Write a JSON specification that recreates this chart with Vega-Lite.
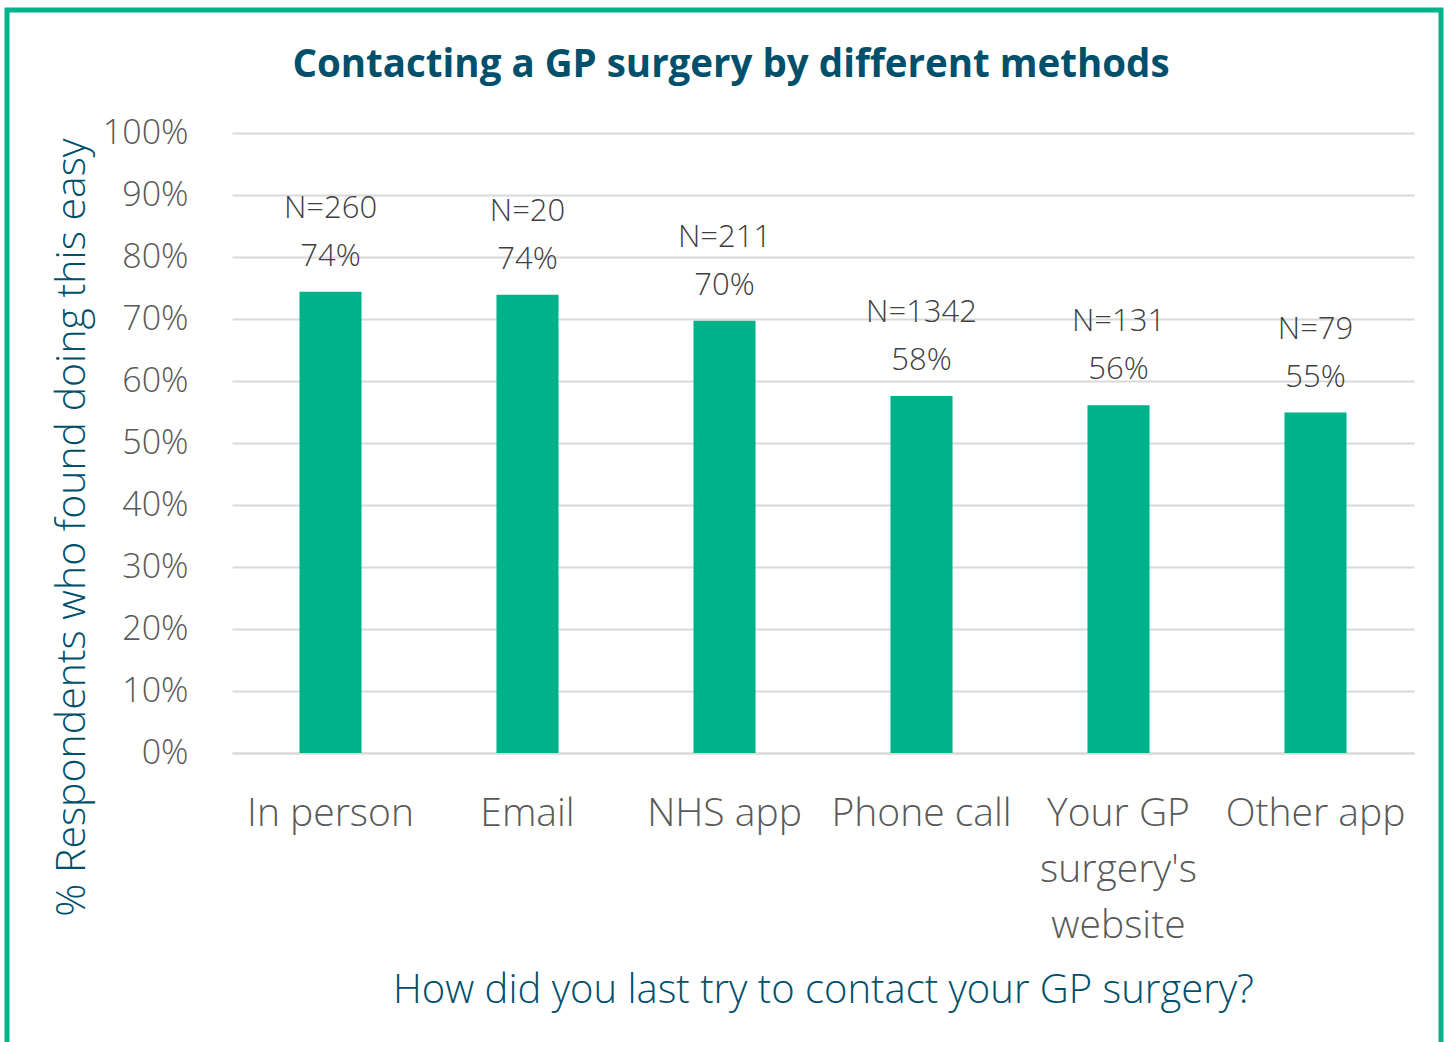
{
  "$schema": "https://vega.github.io/schema/vega-lite/v6.json",
  "width": 1182,
  "height": 620,
  "autosize": "none",
  "padding": {"left": 232, "top": 133, "right": 35, "bottom": 289},
  "background": "white",
  "title": {
    "text": "Contacting a GP surgery by different methods",
    "font": "Open Sans",
    "fontSize": 38.5,
    "fontWeight": "bold",
    "color": "#004F6B",
    "anchor": "middle",
    "dx": -92,
    "baseline": "alphabetic",
    "offset": -108
  },
  "config": {"view": {"stroke": null}},
  "layer": [
    {
      "data": {"values": [{"frame": 1}]},
      "mark": {"type": "rect", "fill": null, "stroke": "#00B28A", "strokeWidth": 5, "x": -225, "x2": 1209, "y": -123, "y2": 930, "clip": false},
      "encoding": {}
    },
    {
      "data": {"name": "bars", "values": [
        {"method": "In person", "pct": 0.744, "n_label": "N=260"},
        {"method": "Email", "pct": 0.739, "n_label": "N=20"},
        {"method": "NHS app", "pct": 0.697, "n_label": "N=211"},
        {"method": "Phone call", "pct": 0.576, "n_label": "N=1342"},
        {"method": "Your GP surgery's website", "pct": 0.561, "n_label": "N=131"},
        {"method": "Other app", "pct": 0.549, "n_label": "N=79"}
      ]},
      "encoding": {
        "x": {
          "field": "method", "type": "nominal", "sort": null,
          "scale": {"paddingInner": 0.685, "paddingOuter": 0.3425},
          "axis": {
            "labelAngle": 0, "labelFont": "Open Sans", "labelFontWeight": 300, "labelFontSize": 39,
            "labelColor": "#595959", "labelPadding": 41, "labelLimit": 0, "labelLineHeight": 56,
            "labelBaseline": "top",
            "labelExpr": "datum.label == 'Your GP surgery\\'s website' ? ['Your GP', 'surgery\\'s', 'website'] : datum.label",
            "domain": true, "domainColor": "#D9D9D9", "domainWidth": 2, "ticks": false,
            "title": "How did you last try to contact your GP surgery?",
            "titleFont": "Open Sans", "titleFontWeight": 300, "titleFontSize": 40, "titleColor": "#004F6B",
            "titleY": 237, "titleBaseline": "middle"
          }
        },
        "y": {
          "field": "pct", "type": "quantitative",
          "scale": {"domain": [0, 1]},
          "axis": {
            "values": [0, 0.1, 0.2, 0.3, 0.4, 0.5, 0.6, 0.7, 0.8, 0.9, 1],
            "format": ".0%", "labelFont": "Open Sans", "labelFontWeight": 300, "labelFontSize": 34,
            "labelColor": "#595959", "labelPadding": 44,
            "domain": false, "ticks": false, "gridColor": "#D9D9D9", "gridWidth": 2,
            "title": "% Respondents who found doing this easy",
            "titleFont": "Open Sans", "titleFontWeight": 300, "titleFontSize": 41, "titleColor": "#004F6B",
            "titleAngle": -90, "titleX": -160, "titleY": 394, "titleBaseline": "middle", "titleAlign": "center"
          }
        }
      },
      "layer": [
        {"mark": {"type": "bar", "color": "#00B28A"}},
        {
          "mark": {"type": "text", "dy": -35, "baseline": "middle", "font": "Open Sans", "fontWeight": 300, "fontSize": 31, "color": "#404040"},
          "encoding": {"text": {"field": "pct", "format": ".0%"}}
        },
        {
          "mark": {"type": "text", "dy": -83, "baseline": "middle", "font": "Open Sans", "fontWeight": 300, "fontSize": 31, "color": "#404040"},
          "encoding": {"text": {"field": "n_label"}}
        }
      ]
    }
  ]
}
